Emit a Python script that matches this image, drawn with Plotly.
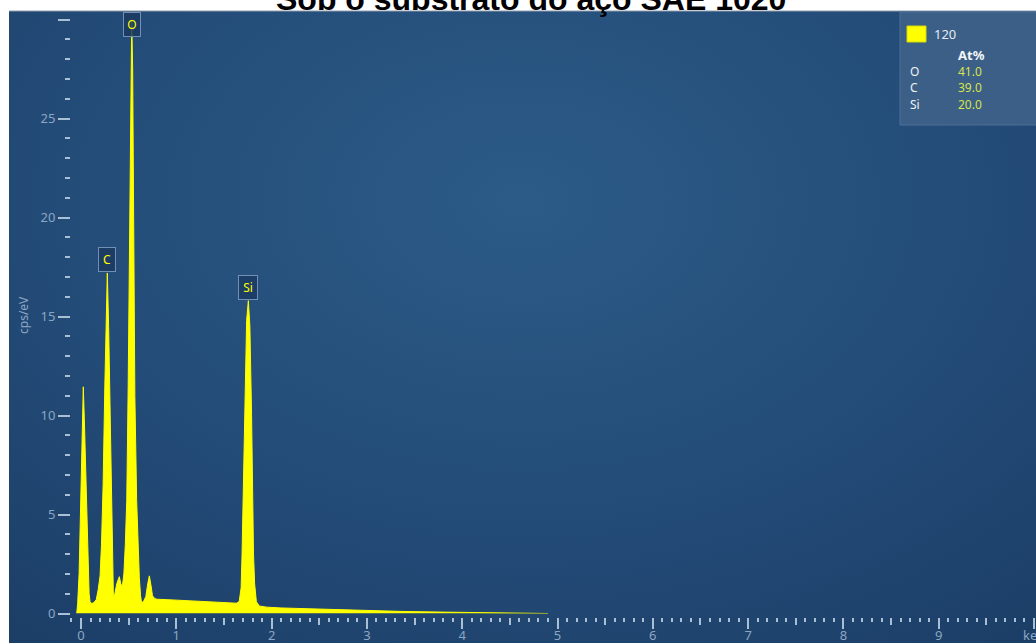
import plotly.graph_objects as go

# EDS spectrum (energy in keV, intensity in cps/eV)
energy_kev = [
    -0.045, -0.035, -0.02, 0.0, 0.015, 0.024, 0.035, 0.06, 0.075, 0.085,
    0.095, 0.112, 0.135, 0.16, 0.18, 0.2, 0.215, 0.232, 0.25, 0.265,
    0.276, 0.29, 0.305, 0.318, 0.33, 0.34, 0.355, 0.375, 0.402, 0.418,
    0.433, 0.45, 0.465, 0.48, 0.495, 0.51, 0.522, 0.532, 0.542, 0.553,
    0.565, 0.584, 0.6, 0.612, 0.625, 0.635, 0.655, 0.68, 0.7, 0.717,
    0.735, 0.75, 0.775, 0.8, 0.9, 1.0, 1.2, 1.4, 1.55, 1.63,
    1.66, 1.68, 1.69, 1.705, 1.72, 1.738, 1.756, 1.772, 1.79, 1.8,
    1.81, 1.822, 1.84, 1.87, 1.95, 2.1, 2.3, 2.6, 3.0, 3.4,
    3.8, 4.2, 4.6, 4.9,
]
counts_cps_ev = [
    0.0, 0.5, 2.0, 5.7, 9.5, 11.45, 9.8, 5.7, 2.5, 1.0,
    0.6, 0.5, 0.55, 0.7, 1.2, 1.9, 3.5, 6.5, 11.5, 15.5,
    17.2, 14.5, 10.5, 5.5, 2.5, 0.8, 1.0, 1.5, 1.86, 1.5,
    1.35, 2.0, 3.5, 5.7, 11.5, 20.0, 27.5, 30.0, 27.5, 19.0,
    11.0, 5.7, 3.2, 1.8, 0.9, 0.55, 0.6, 0.85, 1.5, 1.9,
    1.4, 0.9, 0.75, 0.72, 0.7, 0.68, 0.63, 0.57, 0.54, 0.52,
    0.6, 1.3, 3.0, 6.5, 11.0, 14.8, 15.8, 14.5, 10.0, 5.5,
    3.0, 1.5, 0.6, 0.38, 0.32, 0.28, 0.25, 0.2, 0.15, 0.1,
    0.07, 0.04, 0.015, 0.0,
]

# Identified lines
peak_labels = ["O", "C", "Si"]
peak_energy = [0.532, 0.276, 1.756]
peak_height = [30.0, 17.2, 15.8]

# Quantification table
spectrum_name = "120"
quant_elements = ["O", "C", "Si"]
quant_at_pct = [41.0, 39.0, 20.0]

x_tick_vals = [0, 1, 2, 3, 4, 5, 6, 7, 8, 9, 10]
x_tick_text = ["0", "1", "2", "3", "4", "5", "6", "7", "8", "9", "keV"]
x_half_ticks = [0.5, 1.5, 2.5, 3.5, 4.5, 5.5, 6.5, 7.5, 8.5, 9.5]
y_tick_vals = [0, 5, 10, 15, 20, 25, 30]
y_tick_text = ["0", "5", "10", "15", "20", "25", ""]

W, H = 1036, 643
L, T = 9, 11
PW, PH = W - L, H - T


def px(x):
    return (x - L) / PW


def py(y):
    return (H - y) / PH


TICK = "#a9bfd6"
LABEL = "#8ca6c3"
FONT = "Noto Sans"
YELLOW = "#ffff00"

fig = go.Figure()

# Panel background (radial blue gradient, centred in the upper middle)
fig.add_trace(go.Scatter(
    x=[-0.35, 1.35, 1.35, -0.35, -0.35], y=[-0.25, -0.25, 1.65, 1.65, -0.25],
    xaxis="x", yaxis="y", mode="lines", line=dict(width=0),
    fill="toself",
    fillgradient=dict(type="radial", colorscale=[[0, "#2c5b88"], [0.55, "#234b77"], [1, "#1a3c64"]]),
    hoverinfo="skip", showlegend=False,
))

# Spectrum
fig.add_trace(go.Scatter(
    x=energy_kev, y=counts_cps_ev, xaxis="x2", yaxis="y2",
    mode="lines", line=dict(color=YELLOW, width=1),
    fill="tozeroy", fillcolor=YELLOW,
    hoverinfo="skip", showlegend=False,
))

# carrier for the half-keV tick axis
fig.add_trace(go.Scatter(
    x=[x_half_ticks[0]], y=[0], xaxis="x3", yaxis="y2", mode="markers",
    marker=dict(opacity=0), hoverinfo="skip", showlegend=False,
))

x_range = [-0.105, 10.021]
y_range = [0, 30.43]

fig.update_layout(
    width=W, height=H,
    margin=dict(l=L, r=0, t=T, b=0, autoexpand=False),
    paper_bgcolor="white",
    plot_bgcolor="rgba(0,0,0,0)",
    showlegend=False,
    xaxis=dict(domain=[0, 1], range=[0, 1], visible=False, fixedrange=True,
               automargin=False),
    yaxis=dict(domain=[0, 1], range=[0, 1], visible=False, fixedrange=True,
               automargin=False),
    xaxis2=dict(
        domain=[px(71), 1], range=x_range, anchor="free", position=py(616.5),
        side="bottom", showgrid=False, zeroline=False, showline=False,
        automargin=False,
        ticks="outside", ticklen=11, tickwidth=2, tickcolor=TICK,
        tickvals=x_tick_vals, ticktext=x_tick_text,
        ticklabelstandoff=-4, ticklabeloverflow="allow",
        tickfont=dict(family=FONT, size=13, color=LABEL),
        minor=dict(ticks="outside", tick0=0, dtick=0.1, ticklen=4,
                   tickwidth=2, tickcolor=TICK, showgrid=False),
    ),
    xaxis3=dict(
        overlaying="x2", range=x_range, anchor="free", position=py(616.5),
        side="bottom", showgrid=False, zeroline=False, showline=False,
        automargin=False,
        ticks="outside", ticklen=7, tickwidth=2, tickcolor=TICK,
        tickvals=x_half_ticks, showticklabels=False,
    ),
    yaxis2=dict(
        domain=[py(613.5), 1], range=y_range, anchor="free", position=px(70),
        side="left", showgrid=False, zeroline=False, showline=False,
        automargin=False,
        ticks="outside", ticklen=12, tickwidth=2, tickcolor=TICK,
        tickvals=y_tick_vals, ticktext=y_tick_text,
        tickfont=dict(family=FONT, size=13, color=LABEL),
        minor=dict(ticks="outside", tick0=0, dtick=1, ticklen=5,
                   tickwidth=2, tickcolor=TICK, showgrid=False),
    ),
)

shapes = [
    # thin top rim of the panel
    dict(type="line", xref="paper", yref="paper", x0=0, x1=1, y0=1, y1=1,
         line=dict(color="#8f9cab", width=1)),
    # quantification box
    dict(type="rect", xref="paper", yref="paper",
         x0=px(900), x1=px(1040), y0=py(125), y1=py(12),
         fillcolor="#3b5f87", line=dict(color="#4d7097", width=1)),
    # spectrum colour swatch
    dict(type="rect", xref="paper", yref="paper",
         x0=px(907), x1=px(926), y0=py(42), y1=py(26),
         fillcolor=YELLOW, line=dict(color="#d8d800", width=1)),
]

annotations = [
    dict(text="Sob o substrato do aço SAE 1020", xref="paper", yref="paper",
         x=px(531), y=py(19), xanchor="center", yanchor="bottom", showarrow=False,
         font=dict(family="Liberation Sans", size=32, color="black", weight="bold")),
    dict(text="cps/eV", xref="paper", yref="paper", x=px(23), y=py(315),
         textangle=-90, showarrow=False, xanchor="center", yanchor="middle",
         font=dict(family=FONT, size=12, color=LABEL)),
    dict(text=spectrum_name, xref="paper", yref="paper", x=px(932), y=py(34),
         xanchor="left", yanchor="middle", showarrow=False,
         font=dict(family=FONT, size=13, color="#e4eaf1")),
    dict(text="<b>At%</b>", xref="paper", yref="paper", x=px(956), y=py(55),
         xanchor="left", yanchor="middle", showarrow=False,
         font=dict(family=FONT, size=13, color="#f2f5f8")),
]

row_y = [72, 88, 104]
for el, val, ry in zip(quant_elements, quant_at_pct, row_y):
    annotations.append(dict(
        text=el, xref="paper", yref="paper", x=px(908), y=py(ry),
        xanchor="left", yanchor="middle", showarrow=False,
        font=dict(family=FONT, size=12, color="#eef2f6")))
    annotations.append(dict(
        text=f"{val:.1f}", xref="paper", yref="paper", x=px(956), y=py(ry),
        xanchor="left", yanchor="middle", showarrow=False,
        font=dict(family=FONT, size=12, color="#d6e34c")))

# Element markers above the peaks
for lab, e, h in zip(peak_labels, peak_energy, peak_height):
    top = lab == "O"
    annotations.append(dict(
        text=lab, xref="x2", yref="y2", x=e,
        y=y_range[1] - 0.03 if top else h,
        xanchor="center", yanchor="top" if top else "bottom",
        yshift=0 if top else 1, showarrow=False,
        bgcolor="rgba(27,58,96,0.85)", bordercolor="#7290b5", borderwidth=1,
        borderpad=2, width=12 if lab != "Si" else 14, height=19,
        font=dict(family=FONT, size=12, color=YELLOW)))

fig.update_layout(shapes=shapes, annotations=annotations)

fig.write_html("out.html")
